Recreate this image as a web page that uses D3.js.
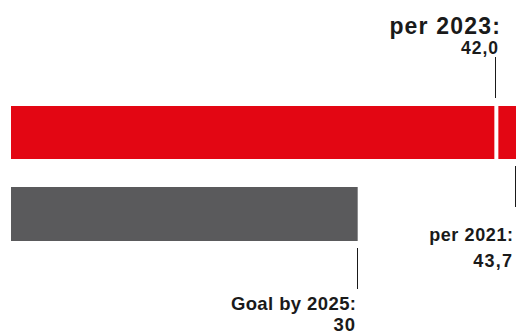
<!DOCTYPE html>
<html>
<head>
<meta charset="utf-8">
<script src="https://cdn.jsdelivr.net/npm/d3@7"></script>
<style>
  html, body { margin: 0; padding: 0; background: #fff; }
  svg text { font-family: "Liberation Sans", Arial, sans-serif; font-weight: bold; fill: #1a1a1a; }
</style>
</head>
<body>
<svg id="chart" width="519" height="334"></svg>
<script>
// Values
const actualLabels = ["per 2021:", "per 2023:"];
const actualValues = [43.7, 42.0];
const goalLabel = "Goal by 2025:";
const goalValue = 30;
const valueText = d => d3.format(".1f")(d).replace(".", ",");

const svg = d3.select("#chart");
const x = d3.scaleLinear().domain([0, 43.7]).range([11, 516]);

const red = "#e30613", grey = "#5a5a5c", ink = "#1a1a1a";

// Current value bar (2021)
svg.append("rect")
  .attr("x", x(0)).attr("y", 106)
  .attr("width", x(actualValues[0]) - x(0)).attr("height", 53)
  .attr("fill", red);

// White divider marking the 2023 level
svg.append("rect")
  .attr("x", x(actualValues[1]) - 2).attr("y", 106)
  .attr("width", 4).attr("height", 53)
  .attr("fill", "#fff");

// Goal bar
svg.append("rect")
  .attr("x", x(0)).attr("y", 187)
  .attr("width", x(goalValue) - x(0)).attr("height", 54)
  .attr("fill", grey);

// Leader lines
const lines = [
  { v: actualValues[1], y1: 57, y2: 98 },
  { v: actualValues[0], y1: 166, y2: 207 },
  { v: goalValue, y1: 248, y2: 289 }
];
svg.selectAll("line.leader").data(lines).join("line")
  .attr("class", "leader")
  .attr("x1", d => Math.round(x(d.v)) - 0.5).attr("x2", d => Math.round(x(d.v)) - 0.5)
  .attr("y1", d => d.y1).attr("y2", d => d.y2)
  .attr("stroke", ink).attr("stroke-width", 1);

// Right-aligned label; trailing letter-spacing is added back to the anchor
function label(text, right, baseline, size, spacing) {
  svg.append("text")
    .attr("x", right + spacing).attr("y", baseline)
    .attr("text-anchor", "end")
    .attr("font-size", size)
    .attr("letter-spacing", spacing)
    .text(text);
}

// 2023 annotation
label(actualLabels[1], 500, 34, 23, 1.2);
label(valueText(actualValues[1]), 498, 54, 17.5, 1.0);

// 2021 annotation
label(actualLabels[0], 513, 241, 18, 0.6);
label(valueText(actualValues[0]), 512, 267, 18, 1.2);

// Goal annotation
label(goalLabel, 356, 310, 18.5, 0.4);
label(String(goalValue), 355, 330.5, 18.5, 0.8);
</script>
</body>
</html>
